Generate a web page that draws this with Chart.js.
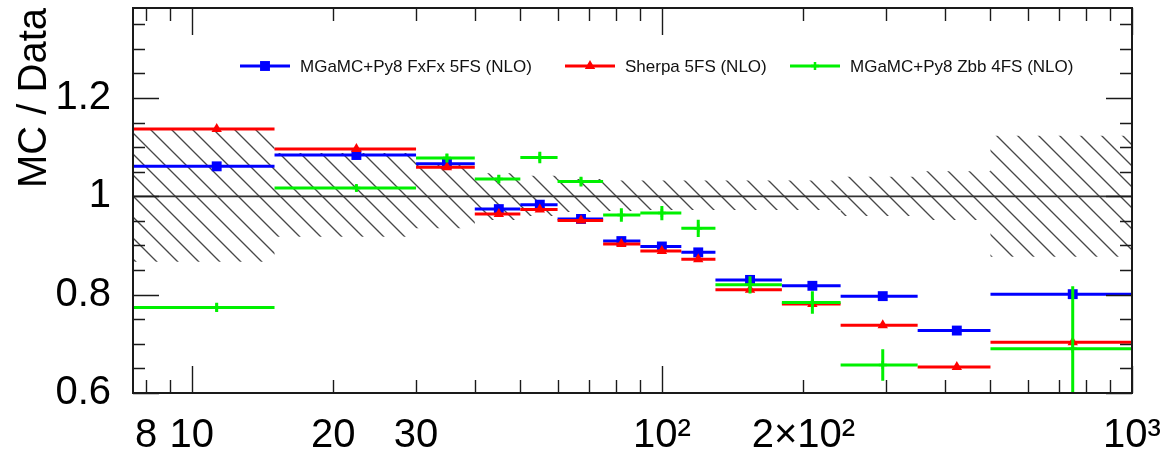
<!DOCTYPE html>
<html>
<head>
<meta charset="utf-8">
<script src="https://cdn.jsdelivr.net/npm/chart.js@4.4.1/dist/chart.umd.min.js"></script>
<style>
  html, body { margin: 0; padding: 0; background: #ffffff; }
  #wrap { width: 1169px; height: 458px; }
</style>
</head>
<body>
<div id="wrap"><canvas id="c" width="1169" height="458"></canvas></div>
<script>
// ---- data -----------------------------------------------------------------
const binEdges   = [7.5, 15, 30, 40, 50, 60, 75, 90, 110, 130, 180, 240, 350, 500, 1000];
const binCentres = [11.3, 22.4, 34.9, 45, 55, 67.3, 82, 100, 119.5, 154, 209, 295, 424, 748];

const seriesNames = ['MGaMC+Py8 FxFx 5FS (NLO)', 'Sherpa 5FS (NLO)', 'MGaMC+Py8 Zbb 4FS (NLO)'];

const fxfxRatio   = [1.061, 1.084, 1.066, 0.974, 0.983, 0.954, 0.909, 0.898, 0.886, 0.830, 0.818, 0.797, 0.727, 0.801];
const sherpaRatio = [1.137, 1.096, 1.059, 0.964, 0.973, 0.951, 0.903, 0.889, 0.872, 0.810, 0.781, 0.738, 0.653, 0.703];
const zbbRatio    = [0.774, 1.017, 1.078, 1.035, 1.079, 1.030, 0.962, 0.966, 0.935, 0.820, 0.784, 0.657, null, 0.690];
const zbbError    = [0.0095, 0.007, 0.009, 0.009, 0.0115, 0.010, 0.0135, 0.0145, 0.0175, 0.0175, 0.023, 0.032, null, 0.127];

// data uncertainty band around unity
const dataBandUp   = [1.137, 1.088, 1.068, 1.047, 1.042, 1.035, 1.032, 1.032, 1.032, 1.032, 1.032, 1.040, 1.051, 1.123];
const dataBandDown = [0.867, 0.918, 0.935, 0.952, 0.960, 0.968, 0.970, 0.972, 0.972, 0.972, 0.972, 0.960, 0.952, 0.877];

// axis ticks
const xMajorTicks = [10, 100, 1000];
const xMinorTicks = [8, 9, 20, 30, 40, 50, 60, 70, 80, 90, 200, 300, 400, 500, 600, 700, 800, 900];
const xTickLabels = { 8: '8', 10: '10', 20: '20', 30: '30', 100: '10²', 200: '2×10²', 1000: '10³' };
const yMajorTicks = [0.6, 0.8, 1, 1.2];
const yMinorTicks = [0.65, 0.7, 0.75, 0.85, 0.9, 0.95, 1.05, 1.1, 1.15, 1.25, 1.3, 1.35];
const yTickLabels = { 0.6: '0.6', 0.8: '0.8', 1: '1', 1.2: '1.2' };

// ---- helpers ----------------------------------------------------------------
const FONT = "'Liberation Sans', Arial, Helvetica, sans-serif";
const BLUE = '#0000ff', RED = '#ff0000', GREEN = '#00f000';

// one horizontal segment per bin, broken between bins
function binSegments(values) {
  const pts = [];
  values.forEach((v, i) => {
    if (v === null) return;
    pts.push({ x: binEdges[i], y: v }, { x: binEdges[i + 1], y: v }, { x: binEdges[i + 1], y: null });
  });
  return pts;
}
// one vertical error segment per bin
function errorSegments(values, errs) {
  const pts = [];
  values.forEach((v, i) => {
    if (v === null || errs[i] === null) return;
    pts.push({ x: binCentres[i], y: v - errs[i] }, { x: binCentres[i], y: v + errs[i] }, { x: binCentres[i], y: null });
  });
  return pts;
}
function markerPoints(values) {
  return values.map((v, i) => ({ x: binCentres[i], y: v }));
}
// stepped outline of the band (one flat step per bin)
function bandOutline(values) {
  const pts = [];
  values.forEach((v, i) => { pts.push({ x: binEdges[i], y: v }, { x: binEdges[i + 1], y: v }); });
  return pts;
}

// diagonal hatch used for the band
function hatchPattern(ctx) {
  const s = 21;
  const tile = document.createElement('canvas');
  tile.width = s; tile.height = s;
  const t = tile.getContext('2d');
  t.strokeStyle = '#474747';
  t.lineWidth = 1.35;
  t.beginPath();
  for (const k of [-1, 0, 1]) {
    t.moveTo(k * s - 1, -1);
    t.lineTo(k * s + s + 1, s + 1);
  }
  t.stroke();
  return ctx.createPattern(tile, 'repeat');
}

// ---- plugins -------------------------------------------------------------
// frame with inward ticks on all four sides
const framePlugin = {
  id: 'frameTicks',
  afterDatasetsDraw(chart) {
    const { ctx, chartArea: a, scales: { x, y } } = chart;
    ctx.save();
    ctx.strokeStyle = '#1a1a1a';
    ctx.lineWidth = 1.4;
    ctx.beginPath();
    const xt = (v, len) => {
      const p = Math.round(x.getPixelForValue(v)) + 0.5;
      ctx.moveTo(p, a.bottom); ctx.lineTo(p, a.bottom - len);
      ctx.moveTo(p, a.top); ctx.lineTo(p, a.top + len);
    };
    const yt = (v, len) => {
      const p = Math.round(y.getPixelForValue(v)) + 0.5;
      ctx.moveTo(a.left, p); ctx.lineTo(a.left + len, p);
      ctx.moveTo(a.right, p); ctx.lineTo(a.right - len, p);
    };
    xMinorTicks.forEach(v => xt(v, 13));
    xMajorTicks.forEach(v => xt(v, 27));
    yMinorTicks.forEach(v => yt(v, 12));
    yMajorTicks.forEach(v => yt(v, 26));
    ctx.stroke();
    ctx.lineWidth = 2;
    ctx.strokeRect(a.left, a.top, a.right - a.left, a.bottom - a.top);
    ctx.restore();
  }
};

// single-row legend drawn inside the frame
const rowLegend = {
  id: 'rowLegend',
  afterDraw(chart, args, opts) {
    const { ctx, chartArea: a } = chart;
    ctx.save();
    ctx.font = opts.fontSize + 'px ' + FONT;
    ctx.textBaseline = 'middle';
    chart.data.datasets.filter(d => d.legendSlot !== undefined).forEach(d => {
      const x0 = a.left + opts.offsets[d.legendSlot];
      const y0 = a.top + opts.top;
      ctx.strokeStyle = d.borderColor;
      ctx.lineWidth = 3;
      ctx.beginPath(); ctx.moveTo(x0, y0); ctx.lineTo(x0 + opts.symbolWidth, y0); ctx.stroke();
      ctx.fillStyle = d.pointBackgroundColor;
      ctx.strokeStyle = d.pointBorderColor;
      ctx.lineWidth = d.pointBorderWidth;
      Chart.helpers.drawPoint(ctx, { pointStyle: d.pointStyle, radius: d.pointRadius, rotation: 0, borderWidth: d.pointBorderWidth }, x0 + opts.symbolWidth / 2, y0);
      ctx.fillStyle = '#111111';
      ctx.fillText(d.label, x0 + opts.textGap, y0 + 1);
    });
    ctx.restore();
  }
};

// ---- chart ---------------------------------------------------------------
const canvas = document.getElementById('c');
const ctx2d = canvas.getContext('2d');
const hatch = hatchPattern(ctx2d);

const lineBase = { type: 'line', pointRadius: 0, fill: false, spanGaps: false, tension: 0, borderCapStyle: 'butt' };

new Chart(canvas, {
  type: 'line',
  data: {
    datasets: [
      { ...lineBase, label: 'band low', data: bandOutline(dataBandDown), borderWidth: 0, borderColor: 'rgba(0,0,0,0)', order: 100 },
      { ...lineBase, label: 'band high', data: bandOutline(dataBandUp), borderWidth: 0, borderColor: 'rgba(0,0,0,0)', fill: '-1', backgroundColor: hatch, order: 100 },
      { ...lineBase, label: 'unity', data: [{ x: binEdges[0], y: 1 }, { x: binEdges[binEdges.length - 1], y: 1 }], borderColor: '#333333', borderWidth: 1.8, order: 90 },

      { ...lineBase, label: 'fxfx bins', data: binSegments(fxfxRatio), borderColor: BLUE, borderWidth: 3, order: 30 },
      { type: 'line', showLine: false, label: seriesNames[0], legendSlot: 0, data: markerPoints(fxfxRatio), borderColor: BLUE,
        pointStyle: 'rect', pointRadius: 7, pointBackgroundColor: BLUE, pointBorderColor: BLUE, pointBorderWidth: 0, order: 29 },

      { ...lineBase, label: 'sherpa bins', data: binSegments(sherpaRatio), borderColor: RED, borderWidth: 3, order: 20 },
      { type: 'line', showLine: false, label: seriesNames[1], legendSlot: 1, data: markerPoints(sherpaRatio), borderColor: RED,
        pointStyle: 'triangle', pointRadius: 6, pointBackgroundColor: RED, pointBorderColor: RED, pointBorderWidth: 0, order: 19 },

      { ...lineBase, label: 'zbb bins', data: binSegments(zbbRatio), borderColor: GREEN, borderWidth: 3, order: 10 },
      { ...lineBase, label: 'zbb errors', data: errorSegments(zbbRatio, zbbError), borderColor: GREEN, borderWidth: 3, order: 10 },
      { type: 'line', showLine: false, label: seriesNames[2], legendSlot: 2, data: markerPoints(zbbRatio), borderColor: GREEN,
        pointStyle: 'cross', pointRadius: 4, pointBackgroundColor: GREEN, pointBorderColor: GREEN, pointBorderWidth: 2.5, order: 9 }
    ]
  },
  options: {
    responsive: false,
    animation: false,
    events: [],
    layout: { padding: { left: 0, right: 37, top: 8, bottom: 0 } },
    plugins: {
      legend: { display: false },
      tooltip: { enabled: false },
      rowLegend: { top: 58, offsets: [107, 432, 657], symbolWidth: 50, textGap: 60, fontSize: 17 }
    },
    scales: {
      x: {
        type: 'logarithmic',
        min: binEdges[0],
        max: binEdges[binEdges.length - 1],
        grid: { display: false, drawTicks: false },
        border: { display: false },
        afterBuildTicks: s => { s.ticks = Object.keys(xTickLabels).map(Number).sort((a, b) => a - b).map(v => ({ value: v })); },
        ticks: {
          autoSkip: false, maxRotation: 0, minRotation: 0, padding: 19,
          color: '#000000', font: { family: FONT, size: 40 },
          callback: v => xTickLabels[v] ?? ''
        },
        afterFit: s => { s.height = 65; s.paddingLeft = 0; s.paddingRight = 0; }
      },
      y: {
        type: 'linear',
        min: 0.6,
        max: 1.383,
        grid: { display: false, drawTicks: false },
        border: { display: false },
        afterBuildTicks: s => { s.ticks = yMajorTicks.map(v => ({ value: v })); },
        ticks: {
          autoSkip: false, padding: 22,
          color: '#000000', font: { family: FONT, size: 40 },
          callback: v => yTickLabels[v] ?? ''
        },
        title: {
          display: true, text: 'MC / Data', align: 'end',
          color: '#000000', font: { family: FONT, size: 40 },
          padding: { top: 11, bottom: 0 }
        },
        afterFit: s => { s.width = 133; s.paddingTop = 0; s.paddingBottom = 0; }
      }
    }
  },
  plugins: [framePlugin, rowLegend]
});
</script>
</body>
</html>
